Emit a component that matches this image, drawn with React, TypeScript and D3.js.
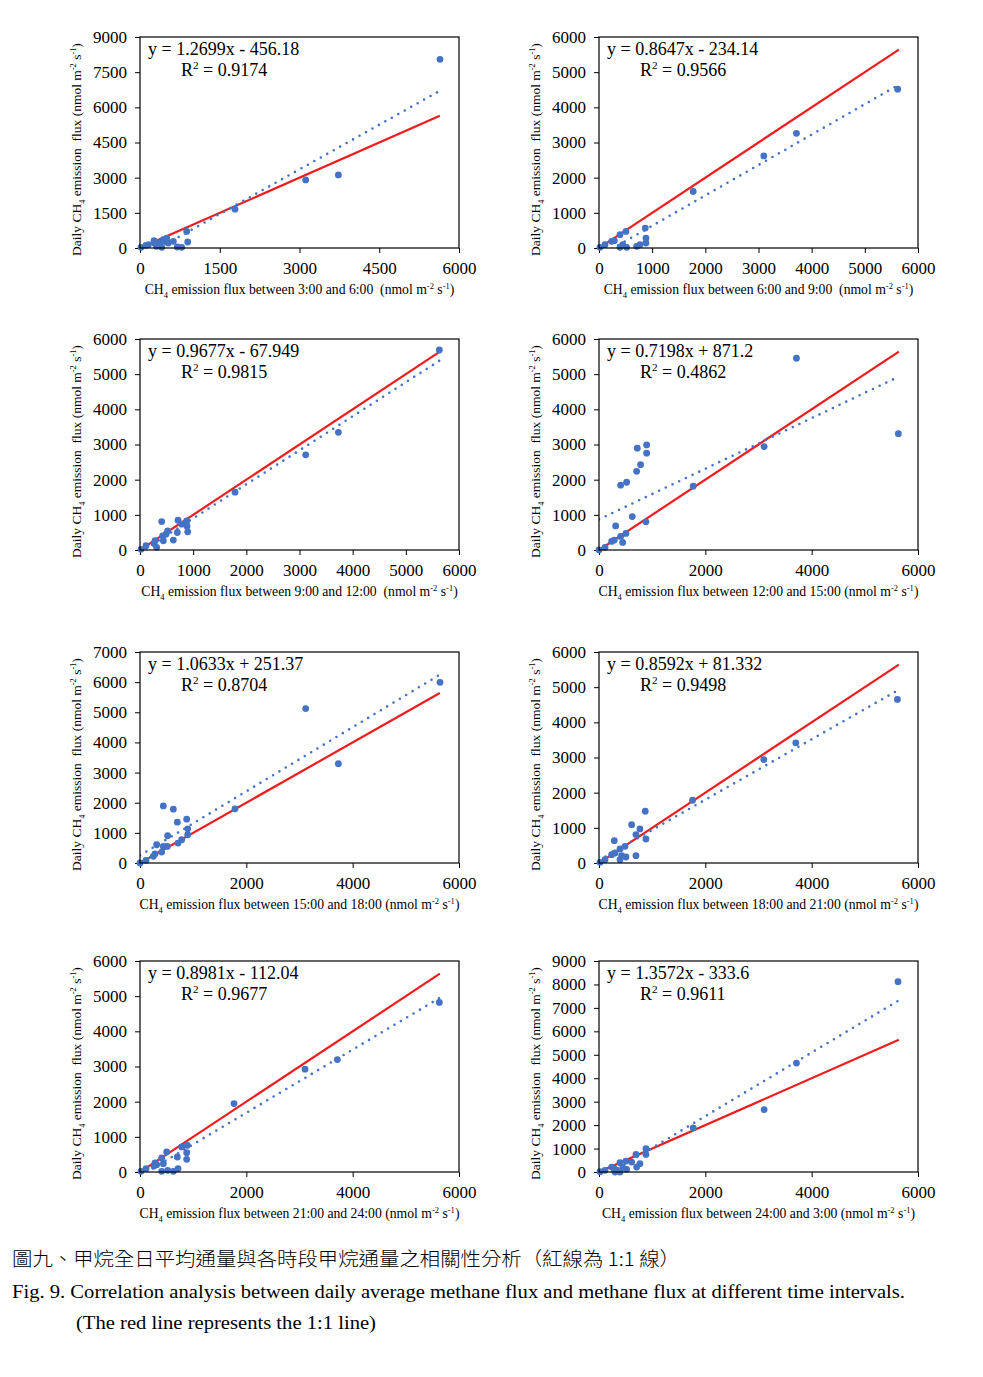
import React, { useRef, useEffect } from 'react';
import * as d3 from 'd3';

type Pt = [number, number];

// time intervals on the x axis titles
const intervals = [
  '3:00 and 6:00  ',
  '6:00 and 9:00  ',
  '9:00 and 12:00  ',
  '12:00 and 15:00 ',
  '15:00 and 18:00 ',
  '18:00 and 21:00 ',
  '21:00 and 24:00 ',
  '24:00 and 3:00 '
];

// regression line y = a x + b
const slopes = [1.2699, 0.8647, 0.9677, 0.7198, 1.0633, 0.8592, 0.8981, 1.3572];
const intercepts = [-456.18, -234.14, -67.949, 871.2, 251.37, 81.332, -112.04, -333.6];
const equationLabels = [
  'y = 1.2699x - 456.18',
  'y = 0.8647x - 234.14',
  'y = 0.9677x - 67.949',
  'y = 0.7198x + 871.2',
  'y = 1.0633x + 251.37',
  'y = 0.8592x + 81.332',
  'y = 0.8981x - 112.04',
  'y = 1.3572x - 333.6'
];
const r2Labels = ['0.9174', '0.9566', '0.9815', '0.4862', '0.8704', '0.9498', '0.9677', '0.9611'];

const yMaxes = [9000, 6000, 6000, 6000, 7000, 6000, 6000, 9000];
const yTickSteps = [1500, 1000, 1000, 1000, 1000, 1000, 1000, 1000];
const xTickSteps = [1500, 1000, 1000, 2000, 2000, 2000, 2000, 2000];
const xMax = 6000;
const lineRange = [0, 5640];

const pts0306: Pt[] = [
  [19, 28], [113, 113], [157, 142], [263, 312], [270, 213], [313, 71], [376, 213], [408, 28],
  [439, 354], [470, 283], [502, 425], [533, 213], [627, 283], [702, 43], [784, 28], [878, 708],
  [897, 255], [1787, 1658], [3116, 2905], [3731, 3117], [5643, 8049]
];
const pts0609: Pt[] = [
  [19, 19], [113, 94], [238, 189], [288, 208], [395, 378], [395, 19], [445, 94], [507, 472],
  [520, 19], [708, 47], [770, 94], [870, 567], [883, 283], [883, 142], [1772, 1606],
  [3100, 2617], [3714, 3260], [5618, 4517]
];
const pts0912: Pt[] = [
  [19, 19], [113, 122], [263, 188], [282, 263], [313, 75], [408, 808], [426, 404], [439, 263],
  [489, 451], [520, 545], [627, 282], [702, 498], [715, 846], [784, 733], [878, 827], [884, 677],
  [897, 517], [1787, 1645], [3116, 2707], [3731, 3346], [5630, 5687]
];
const pts1215: Pt[] = [
  [0, 0], [113, 75], [238, 245], [288, 282], [313, 686], [407, 385], [407, 1842], [445, 216],
  [507, 470], [520, 1927], [626, 950], [708, 2237], [720, 2895], [783, 2425], [883, 800],
  [896, 2754], [896, 2989], [1772, 1814], [3106, 2942], [3714, 5452], [5630, 3309]
];
const pts1518: Pt[] = [
  [0, 0], [113, 88], [250, 220], [282, 298], [313, 606], [408, 364], [439, 551], [439, 1895],
  [514, 551], [520, 904], [627, 1785], [702, 1355], [715, 661], [784, 771], [878, 1455],
  [897, 1135], [897, 937], [1787, 1796], [3116, 5124], [3731, 3295], [5643, 5995]
];
const pts1821: Pt[] = [
  [19, 19], [113, 95], [238, 237], [288, 636], [301, 285], [395, 399], [395, 95], [426, 209],
  [489, 475], [507, 171], [614, 1091], [695, 807], [695, 209], [770, 968], [870, 1471],
  [883, 683], [1760, 1784], [3100, 2942], [3701, 3416], [5612, 4650]
];
const pts2124: Pt[] = [
  [19, 19], [113, 95], [263, 171], [282, 256], [313, 209], [408, 399], [408, 19], [439, 237],
  [502, 569], [520, 47], [627, 19], [702, 427], [715, 95], [784, 712], [878, 550], [878, 361],
  [890, 759], [1768, 1945], [3104, 2923], [3712, 3198], [5630, 4821]
];
const pts2403: Pt[] = [
  [19, 14], [113, 71], [238, 212], [288, 142], [301, 0], [395, 397], [395, 0], [445, 184],
  [507, 468], [520, 113], [614, 425], [695, 751], [708, 212], [770, 354], [883, 992],
  [883, 751], [1772, 1885], [3106, 2664], [3714, 4648], [5624, 8119]
];
const allPoints = [pts0306, pts0609, pts0912, pts1215, pts1518, pts1821, pts2124, pts2403];

type Part = { t: string; s?: 'sub' | 'sup' };

function rich(sel: d3.Selection<SVGTextElement, unknown, null, undefined>, parts: Part[], fs: number) {
  let shift = 0;
  parts.forEach((p) => {
    const target = p.s === 'sub' ? fs * 0.28 : p.s === 'sup' ? -fs * 0.38 : 0;
    const ts = sel.append('tspan').attr('dy', target - shift).text(p.t);
    if (p.s) ts.attr('font-size', fs * 0.62);
    shift = target;
  });
}

export default function App(): JSX.Element {
  const svgRef = useRef<SVGSVGElement>(null);
  useEffect(() => {
    const svgEle = svgRef.current;
    if (svgEle == null) {
      return;
    }
    const svg = d3.select(svgEle);
    svg.selectAll('*').remove();

    const serif = "'Liberation Serif', 'Times New Roman', serif";
    const blue = '#4472C4';
    const red = '#ee1c1c';
    const cols = [140, 599];
    const rows = [37, 339, 652, 961];
    const plotW = 319;
    const plotH = 211;

    allPoints.forEach((pts, i) => {
      const left = cols[i % 2];
      const top = rows[Math.floor(i / 2)];
      const bottom = top + plotH;
      const x = d3.scaleLinear().domain([0, xMax]).range([left, left + plotW]);
      const y = d3.scaleLinear().domain([0, yMaxes[i]]).range([bottom, top]);

      const g = svg.append('g');

      // 坐标轴
      const xAxis = d3
        .axisBottom(x)
        .tickValues(d3.range(0, xMax + 1, xTickSteps[i]))
        .tickFormat(d3.format('d'))
        .tickSizeOuter(0)
        .tickSize(5)
        .tickPadding(9);
      const yAxis = d3
        .axisLeft(y)
        .tickValues(d3.range(0, yMaxes[i] + 1, yTickSteps[i]))
        .tickFormat(d3.format('d'))
        .tickSizeOuter(0)
        .tickSize(5)
        .tickPadding(8);
      const gx = g.append('g').attr('transform', `translate(0,${bottom})`).call(xAxis);
      const gy = g.append('g').attr('transform', `translate(${left},0)`).call(yAxis);
      [gx, gy].forEach((a) => {
        a.select('.domain').remove();
        a.selectAll('line').attr('stroke', '#000');
        a.selectAll('text').attr('font-family', serif).attr('font-size', 17).attr('fill', '#000');
        a.attr('font-family', null).attr('font-size', null);
      });

      const clipId = `clip${i}`;
      g.append('clipPath')
        .attr('id', clipId)
        .append('rect')
        .attr('x', left)
        .attr('y', top)
        .attr('width', plotW)
        .attr('height', plotH);

      const line = d3
        .line<number>()
        .x((d) => x(d))
        .y((d) => y(d));

      // 1:1 线
      g.append('path')
        .attr('d', line(lineRange))
        .attr('clip-path', `url(#${clipId})`)
        .attr('fill', 'none')
        .attr('stroke', red)
        .attr('stroke-width', 2.2);

      // 趋势线
      const trend = d3
        .line<number>()
        .x((d) => x(d))
        .y((d) => y(slopes[i] * d + intercepts[i]));
      g.append('path')
        .attr('d', trend(lineRange))
        .attr('clip-path', `url(#${clipId})`)
        .attr('fill', 'none')
        .attr('stroke', blue)
        .attr('stroke-width', 2.6)
        .attr('stroke-linecap', 'round')
        .attr('stroke-dasharray', '0 7.4');

      g.selectAll()
        .data(pts)
        .join('circle')
        .attr('cx', (d) => x(d[0]))
        .attr('cy', (d) => y(d[1]))
        .attr('r', 3.4)
        .attr('fill', blue);

      g.append('rect')
        .attr('x', left)
        .attr('y', top)
        .attr('width', plotW)
        .attr('height', plotH)
        .attr('fill', 'none')
        .attr('stroke', '#000')
        .attr('stroke-width', 1.2);

      // 方程
      g.append('text')
        .attr('x', left + 8)
        .attr('y', top + 18)
        .attr('font-family', serif)
        .attr('font-size', 18)
        .style('white-space', 'pre')
        .text(equationLabels[i]);
      const r2 = g
        .append('text')
        .attr('x', left + 41)
        .attr('y', top + 39)
        .attr('font-family', serif)
        .attr('font-size', 18)
        .style('white-space', 'pre');
      rich(r2, [{ t: 'R' }, { t: '2', s: 'sup' }, { t: ' = ' + r2Labels[i] }], 18);

      // 轴标题
      const xt = g
        .append('text')
        .attr('x', left + plotW / 2)
        .attr('y', bottom + 46)
        .attr('text-anchor', 'middle')
        .attr('font-family', serif)
        .attr('font-size', 13.7)
        .style('white-space', 'pre');
      rich(
        xt,
        [
          { t: 'CH' },
          { t: '4', s: 'sub' },
          { t: ` emission flux between ${intervals[i]}(nmol m` },
          { t: '-2', s: 'sup' },
          { t: ' s' },
          { t: '-1', s: 'sup' },
          { t: ')' }
        ],
        13.7
      );

      const yt = g
        .append('text')
        .attr('transform', `translate(${left - 59},${top + plotH / 2 + 7}) rotate(-90)`)
        .attr('text-anchor', 'middle')
        .attr('font-family', serif)
        .attr('font-size', 13.5)
        .style('white-space', 'pre');
      rich(
        yt,
        [
          { t: 'Daily CH' },
          { t: '4', s: 'sub' },
          { t: ' emission  flux (nmol m' },
          { t: '-2', s: 'sup' },
          { t: ' s' },
          { t: '-1', s: 'sup' },
          { t: ')' }
        ],
        13.5
      );
    });

    // 图注
    svg
      .append('text')
      .attr('x', 12)
      .attr('y', 1266)
      .attr('font-family', "'Noto Sans CJK TC', sans-serif")
      .attr('font-size', 19)
      .attr('font-weight', 300)
      .attr('textLength', 668)
      .attr('lengthAdjust', 'spacingAndGlyphs')
      .style('white-space', 'pre')
      .text('圖九、甲烷全日平均通量與各時段甲烷通量之相關性分析（紅線為 1:1 線）');
    svg
      .append('text')
      .attr('x', 12)
      .attr('y', 1298)
      .attr('font-family', serif)
      .attr('font-size', 19.5)
      .attr('textLength', 893)
      .attr('lengthAdjust', 'spacingAndGlyphs')
      .text('Fig. 9. Correlation analysis between daily average methane flux and methane flux at different time intervals.');
    svg
      .append('text')
      .attr('x', 76)
      .attr('y', 1329)
      .attr('font-family', serif)
      .attr('font-size', 19.5)
      .attr('textLength', 300)
      .attr('lengthAdjust', 'spacingAndGlyphs')
      .text('(The red line represents the 1:1 line)');
  }, []);
  return (
    <svg
      ref={svgRef}
      width={983}
      height={1377}
      style={{ position: 'absolute', left: 0, top: 0, background: '#fff' }}
    />
  );
}
